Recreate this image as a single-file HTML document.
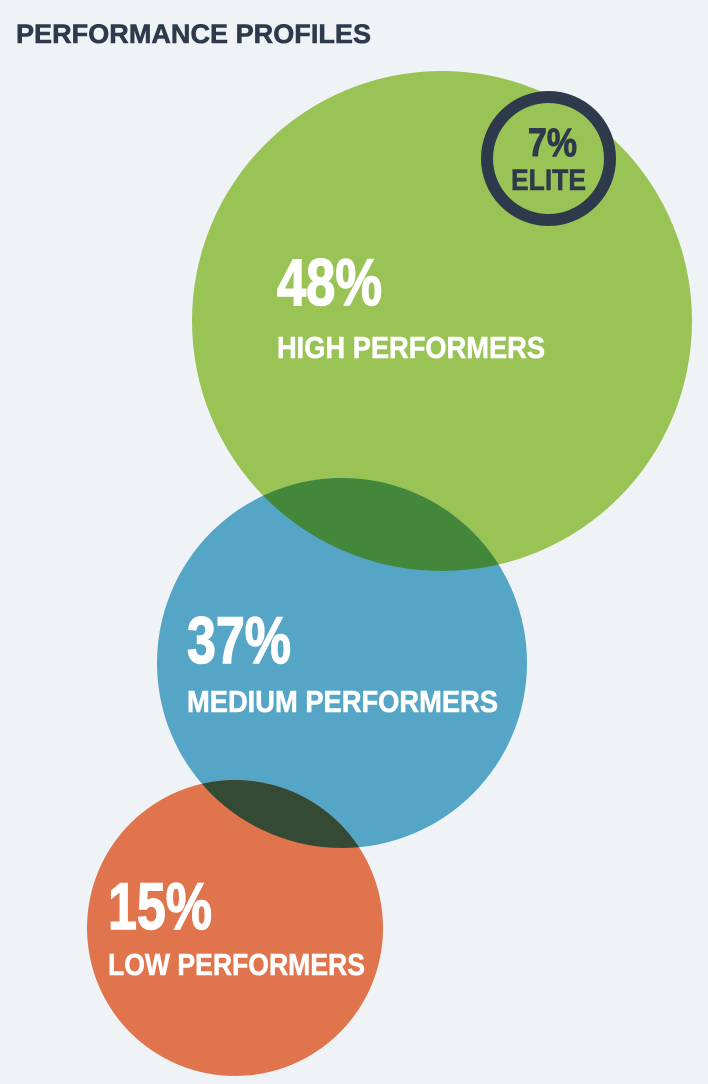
<!DOCTYPE html>
<html><head><meta charset="utf-8"><style>
html,body{margin:0;padding:0;background:#eff3f6;}
svg{display:block;}
text{font-family:"Liberation Sans Narrow","Liberation Sans",sans-serif;font-weight:bold;}
</style></head><body>
<svg id="chart" width="708" height="1084" viewBox="0 0 708 1084">
<rect width="708" height="1084" fill="#eff3f6"/>
<text x="16" y="43" font-size="27" fill="#2e3a4b" stroke="#2e3a4b" stroke-width="0.6" letter-spacing="2" textLength="357" lengthAdjust="spacing" style="font-family:'Liberation Sans Narrow','Liberation Sans',sans-serif">PERFORMANCE PROFILES</text>
<defs>
<clipPath id="cg"><circle cx="442" cy="321" r="250"/></clipPath>
<clipPath id="cb"><circle cx="342" cy="663" r="185"/></clipPath>
</defs>
<g id="marks"></g>
</svg>
<script>
const categories = ["HIGH PERFORMERS", "MEDIUM PERFORMERS", "LOW PERFORMERS"];
const values = [48, 37, 15];
const eliteValue = [7];
const eliteLabel = ["ELITE"];
const colors = ["#99c355", "#55a6c6", "#e0744c"];
const overlapColors = ["#43873b", "#354a34"];
const layout = [
  {cx:442, cy:321, r:250, tx:277, py:305, ly:358, pw:105, lw:268},
  {cx:342, cy:663, r:185, tx:187, py:663, ly:712, pw:104, lw:311},
  {cx:235, cy:928, r:148, tx:108, py:929, ly:975, pw:104, lw:257}
];
const NS = "http://www.w3.org/2000/svg";
const g = document.getElementById('marks');
function mk(tag, attrs, parent){const e=document.createElementNS(NS,tag);for(const k in attrs)e.setAttribute(k,attrs[k]);(parent||g).appendChild(e);return e;}
values.forEach((v,i)=>{
  const L=layout[i];
  const c=mk('circle',{cx:L.cx,cy:L.cy,r:L.r,fill:colors[i]});
  
  
  if(i>0){
    const o=mk('circle',{cx:L.cx,cy:L.cy,r:L.r,fill:overlapColors[i-1],'clip-path':i===1?'url(#cg)':'url(#cb)'});
    
    
  }
});
values.forEach((v,i)=>{
  const L=layout[i];
  const t=mk('text',{x:L.tx,y:L.py,'font-size':66,fill:'#ffffff',stroke:'#ffffff','stroke-width':1.5,textLength:L.pw,lengthAdjust:'spacingAndGlyphs'});
  t.textContent=v+'%';
  
  
  const l=mk('text',{x:L.tx,y:L.ly,'font-size':31,fill:'#ffffff',stroke:'#ffffff','stroke-width':0.6,textLength:L.lw,lengthAdjust:'spacingAndGlyphs'});
  l.textContent=categories[i];
  
  
});
const ring=mk('circle',{cx:548.5,cy:158.5,r:61.5,fill:'none',stroke:'#2e3a4b','stroke-width':12});


const e1=mk('text',{x:528,y:156,'font-size':40,fill:'#2e3a4b',stroke:'#2e3a4b','stroke-width':1,textLength:49,lengthAdjust:'spacingAndGlyphs'});
e1.textContent=eliteValue[0]+'%';


const e2=mk('text',{x:511,y:190,'font-size':30,fill:'#2e3a4b',stroke:'#2e3a4b','stroke-width':0.6,textLength:75,lengthAdjust:'spacingAndGlyphs'});
e2.textContent=eliteLabel[0];


</script>
</body></html>
